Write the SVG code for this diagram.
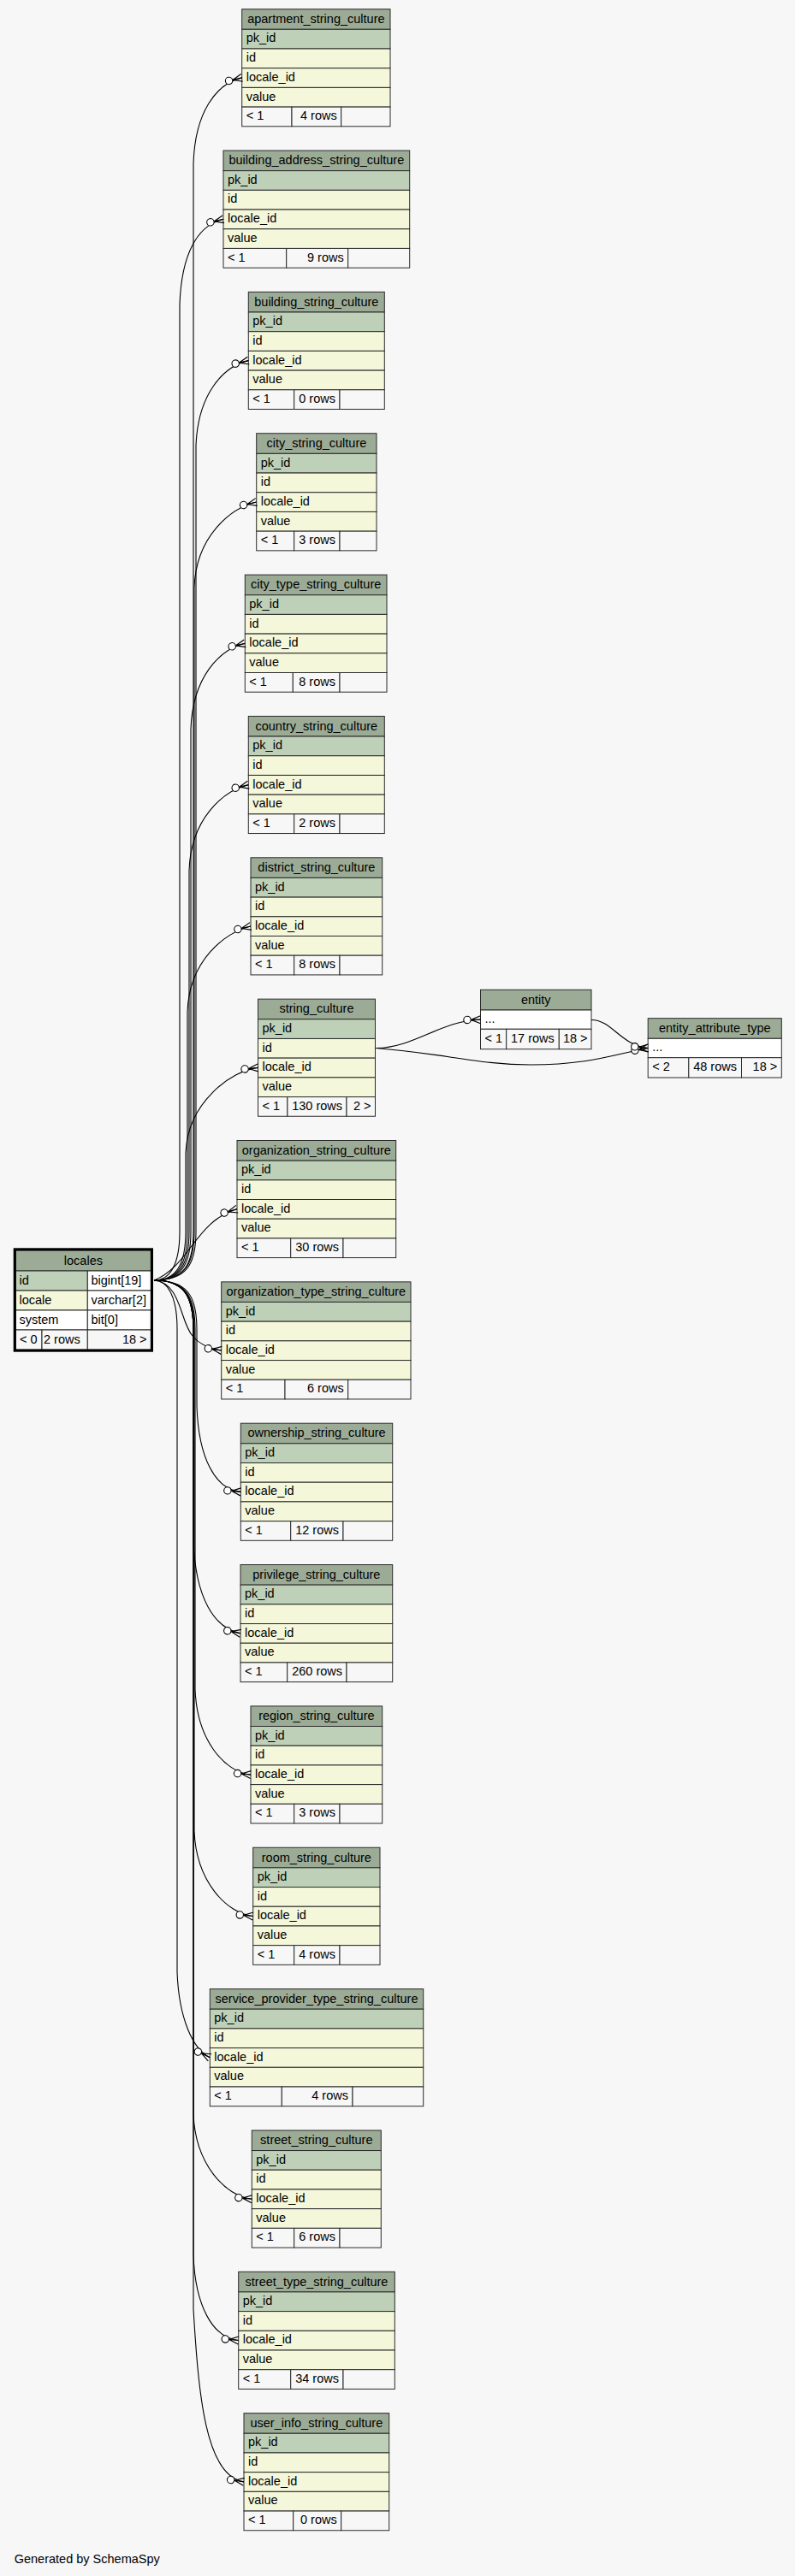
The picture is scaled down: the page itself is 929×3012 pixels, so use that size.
<svg xmlns="http://www.w3.org/2000/svg" width="929" height="3012" viewBox="0 0 929 3012">
<defs>
<style>
.bg{fill:#f7f7f7}
.hd{fill:#9bab96;stroke:#2b2b2b;stroke-width:1}
.pk{fill:#bed1b8;stroke:#2b2b2b;stroke-width:1}
.col{fill:#f4f7da;stroke:#2b2b2b;stroke-width:1}
.ft{fill:#f7f7f7;stroke:#2b2b2b;stroke-width:1}
.wt{fill:#ffffff;stroke:#2b2b2b;stroke-width:1}
text{font-family:"Liberation Sans",Arial,sans-serif;font-size:14.5px;fill:#000}
.c{text-anchor:middle}
.r{text-anchor:end}
.edge{fill:none;stroke:#000;stroke-width:1.1}
</style>
<marker id="crow" markerUnits="userSpaceOnUse" viewBox="-22 -8 24 16" refX="0" refY="0" markerWidth="24" markerHeight="16" orient="auto" overflow="visible">
<path d="M-11,0 L0,-4.5 M-11,0 L0,0 M-11,0 L0,4.5" fill="none" stroke="#000" stroke-width="1.2"/>
<circle cx="-15.5" cy="0" r="4.2" fill="#fff" stroke="#000" stroke-width="1.1"/>
</marker>
</defs>
<rect class="bg" x="0" y="0" width="929" height="3012"/>

<g id="t0" transform="translate(282.7,10.7)">
<rect class="hd" x="0" y="0" width="173.3" height="23.6"/><rect class="pk" x="0" y="23.6" width="173.3" height="22.7"/><rect class="col" x="0" y="46.3" width="173.3" height="22.7"/><rect class="col" x="0" y="69" width="173.3" height="22.7"/><rect class="col" x="0" y="91.7" width="173.3" height="22.7"/>
<rect class="ft" x="0" y="114.4" width="58.3" height="22.7"/><rect class="ft" x="58.3" y="114.4" width="57.7" height="22.7"/><rect class="ft" x="116" y="114.4" width="57.3" height="22.7"/>
<text class="c" x="86.65" y="16.3">apartment_string_culture</text><text x="5" y="38.75">pk_id</text><text x="5" y="61.45">id</text><text x="5" y="84.15">locale_id</text><text x="5" y="106.85">value</text><text x="5" y="129.55">&lt; 1</text><text class="r" x="111" y="129.55">4 rows</text>
</g>

<g id="t1" transform="translate(261,176.05)">
<rect class="hd" x="0" y="0" width="217.7" height="23.6"/><rect class="pk" x="0" y="23.6" width="217.7" height="22.7"/><rect class="col" x="0" y="46.3" width="217.7" height="22.7"/><rect class="col" x="0" y="69" width="217.7" height="22.7"/><rect class="col" x="0" y="91.7" width="217.7" height="22.7"/>
<rect class="ft" x="0" y="114.4" width="73.7" height="22.7"/><rect class="ft" x="73.7" y="114.4" width="72" height="22.7"/><rect class="ft" x="145.7" y="114.4" width="72" height="22.7"/>
<text class="c" x="108.85" y="16.3">building_address_string_culture</text><text x="5" y="38.75">pk_id</text><text x="5" y="61.45">id</text><text x="5" y="84.15">locale_id</text><text x="5" y="106.85">value</text><text x="5" y="129.55">&lt; 1</text><text class="r" x="140.7" y="129.55">9 rows</text>
</g>

<g id="t2" transform="translate(290.3,341.4)">
<rect class="hd" x="0" y="0" width="159" height="23.6"/><rect class="pk" x="0" y="23.6" width="159" height="22.7"/><rect class="col" x="0" y="46.3" width="159" height="22.7"/><rect class="col" x="0" y="69" width="159" height="22.7"/><rect class="col" x="0" y="91.7" width="159" height="22.7"/>
<rect class="ft" x="0" y="114.4" width="53.4" height="22.7"/><rect class="ft" x="53.4" y="114.4" width="53.3" height="22.7"/><rect class="ft" x="106.7" y="114.4" width="52.3" height="22.7"/>
<text class="c" x="79.5" y="16.3">building_string_culture</text><text x="5" y="38.75">pk_id</text><text x="5" y="61.45">id</text><text x="5" y="84.15">locale_id</text><text x="5" y="106.85">value</text><text x="5" y="129.55">&lt; 1</text><text class="r" x="101.7" y="129.55">0 rows</text>
</g>

<g id="t3" transform="translate(299.7,506.75)">
<rect class="hd" x="0" y="0" width="140.3" height="23.6"/><rect class="pk" x="0" y="23.6" width="140.3" height="22.7"/><rect class="col" x="0" y="46.3" width="140.3" height="22.7"/><rect class="col" x="0" y="69" width="140.3" height="22.7"/><rect class="col" x="0" y="91.7" width="140.3" height="22.7"/>
<rect class="ft" x="0" y="114.4" width="44" height="22.7"/><rect class="ft" x="44" y="114.4" width="53.3" height="22.7"/><rect class="ft" x="97.3" y="114.4" width="43" height="22.7"/>
<text class="c" x="70.15" y="16.3">city_string_culture</text><text x="5" y="38.75">pk_id</text><text x="5" y="61.45">id</text><text x="5" y="84.15">locale_id</text><text x="5" y="106.85">value</text><text x="5" y="129.55">&lt; 1</text><text class="r" x="92.3" y="129.55">3 rows</text>
</g>

<g id="t4" transform="translate(286.3,672.1)">
<rect class="hd" x="0" y="0" width="165.7" height="23.6"/><rect class="pk" x="0" y="23.6" width="165.7" height="22.7"/><rect class="col" x="0" y="46.3" width="165.7" height="22.7"/><rect class="col" x="0" y="69" width="165.7" height="22.7"/><rect class="col" x="0" y="91.7" width="165.7" height="22.7"/>
<rect class="ft" x="0" y="114.4" width="56" height="22.7"/><rect class="ft" x="56" y="114.4" width="54.7" height="22.7"/><rect class="ft" x="110.7" y="114.4" width="55" height="22.7"/>
<text class="c" x="82.85" y="16.3">city_type_string_culture</text><text x="5" y="38.75">pk_id</text><text x="5" y="61.45">id</text><text x="5" y="84.15">locale_id</text><text x="5" y="106.85">value</text><text x="5" y="129.55">&lt; 1</text><text class="r" x="105.7" y="129.55">8 rows</text>
</g>

<g id="t5" transform="translate(290.3,837.45)">
<rect class="hd" x="0" y="0" width="159" height="23.6"/><rect class="pk" x="0" y="23.6" width="159" height="22.7"/><rect class="col" x="0" y="46.3" width="159" height="22.7"/><rect class="col" x="0" y="69" width="159" height="22.7"/><rect class="col" x="0" y="91.7" width="159" height="22.7"/>
<rect class="ft" x="0" y="114.4" width="53.4" height="22.7"/><rect class="ft" x="53.4" y="114.4" width="53.3" height="22.7"/><rect class="ft" x="106.7" y="114.4" width="52.3" height="22.7"/>
<text class="c" x="79.5" y="16.3">country_string_culture</text><text x="5" y="38.75">pk_id</text><text x="5" y="61.45">id</text><text x="5" y="84.15">locale_id</text><text x="5" y="106.85">value</text><text x="5" y="129.55">&lt; 1</text><text class="r" x="101.7" y="129.55">2 rows</text>
</g>

<g id="t6" transform="translate(293,1002.8)">
<rect class="hd" x="0" y="0" width="153.7" height="23.6"/><rect class="pk" x="0" y="23.6" width="153.7" height="22.7"/><rect class="col" x="0" y="46.3" width="153.7" height="22.7"/><rect class="col" x="0" y="69" width="153.7" height="22.7"/><rect class="col" x="0" y="91.7" width="153.7" height="22.7"/>
<rect class="ft" x="0" y="114.4" width="50.7" height="22.7"/><rect class="ft" x="50.7" y="114.4" width="53.3" height="22.7"/><rect class="ft" x="104" y="114.4" width="49.7" height="22.7"/>
<text class="c" x="76.85" y="16.3">district_string_culture</text><text x="5" y="38.75">pk_id</text><text x="5" y="61.45">id</text><text x="5" y="84.15">locale_id</text><text x="5" y="106.85">value</text><text x="5" y="129.55">&lt; 1</text><text class="r" x="99" y="129.55">8 rows</text>
</g>

<g id="t7" transform="translate(301.5,1168.15)">
<rect class="hd" x="0" y="0" width="137" height="23.6"/><rect class="pk" x="0" y="23.6" width="137" height="22.7"/><rect class="col" x="0" y="46.3" width="137" height="22.7"/><rect class="col" x="0" y="69" width="137" height="22.7"/><rect class="col" x="0" y="91.7" width="137" height="22.7"/>
<rect class="ft" x="0" y="114.4" width="34.4" height="22.7"/><rect class="ft" x="34.4" y="114.4" width="69.1" height="22.7"/><rect class="ft" x="103.5" y="114.4" width="33.5" height="22.7"/>
<text class="c" x="68.5" y="16.3">string_culture</text><text x="5" y="38.75">pk_id</text><text x="5" y="61.45">id</text><text x="5" y="84.15">locale_id</text><text x="5" y="106.85">value</text><text x="5" y="129.55">&lt; 1</text><text class="r" x="98.5" y="129.55">130 rows</text><text class="r" x="132" y="129.55">2 &gt;</text>
</g>

<g id="t8" transform="translate(277,1333.5)">
<rect class="hd" x="0" y="0" width="185.7" height="23.6"/><rect class="pk" x="0" y="23.6" width="185.7" height="22.7"/><rect class="col" x="0" y="46.3" width="185.7" height="22.7"/><rect class="col" x="0" y="69" width="185.7" height="22.7"/><rect class="col" x="0" y="91.7" width="185.7" height="22.7"/>
<rect class="ft" x="0" y="114.4" width="62.7" height="22.7"/><rect class="ft" x="62.7" y="114.4" width="61.3" height="22.7"/><rect class="ft" x="124" y="114.4" width="61.7" height="22.7"/>
<text class="c" x="92.85" y="16.3">organization_string_culture</text><text x="5" y="38.75">pk_id</text><text x="5" y="61.45">id</text><text x="5" y="84.15">locale_id</text><text x="5" y="106.85">value</text><text x="5" y="129.55">&lt; 1</text><text class="r" x="119" y="129.55">30 rows</text>
</g>

<g id="t9" transform="translate(258.7,1498.85)">
<rect class="hd" x="0" y="0" width="221.3" height="23.6"/><rect class="pk" x="0" y="23.6" width="221.3" height="22.7"/><rect class="col" x="0" y="46.3" width="221.3" height="22.7"/><rect class="col" x="0" y="69" width="221.3" height="22.7"/><rect class="col" x="0" y="91.7" width="221.3" height="22.7"/>
<rect class="ft" x="0" y="114.4" width="74.3" height="22.7"/><rect class="ft" x="74.3" y="114.4" width="73.7" height="22.7"/><rect class="ft" x="148" y="114.4" width="73.3" height="22.7"/>
<text class="c" x="110.65" y="16.3">organization_type_string_culture</text><text x="5" y="38.75">pk_id</text><text x="5" y="61.45">id</text><text x="5" y="84.15">locale_id</text><text x="5" y="106.85">value</text><text x="5" y="129.55">&lt; 1</text><text class="r" x="143" y="129.55">6 rows</text>
</g>

<g id="t10" transform="translate(281.3,1664.2)">
<rect class="hd" x="0" y="0" width="177.4" height="23.6"/><rect class="pk" x="0" y="23.6" width="177.4" height="22.7"/><rect class="col" x="0" y="46.3" width="177.4" height="22.7"/><rect class="col" x="0" y="69" width="177.4" height="22.7"/><rect class="col" x="0" y="91.7" width="177.4" height="22.7"/>
<rect class="ft" x="0" y="114.4" width="58.4" height="22.7"/><rect class="ft" x="58.4" y="114.4" width="61.3" height="22.7"/><rect class="ft" x="119.7" y="114.4" width="57.7" height="22.7"/>
<text class="c" x="88.7" y="16.3">ownership_string_culture</text><text x="5" y="38.75">pk_id</text><text x="5" y="61.45">id</text><text x="5" y="84.15">locale_id</text><text x="5" y="106.85">value</text><text x="5" y="129.55">&lt; 1</text><text class="r" x="114.7" y="129.55">12 rows</text>
</g>

<g id="t11" transform="translate(281,1829.55)">
<rect class="hd" x="0" y="0" width="177.7" height="23.6"/><rect class="pk" x="0" y="23.6" width="177.7" height="22.7"/><rect class="col" x="0" y="46.3" width="177.7" height="22.7"/><rect class="col" x="0" y="69" width="177.7" height="22.7"/><rect class="col" x="0" y="91.7" width="177.7" height="22.7"/>
<rect class="ft" x="0" y="114.4" width="54.7" height="22.7"/><rect class="ft" x="54.7" y="114.4" width="69.3" height="22.7"/><rect class="ft" x="124" y="114.4" width="53.7" height="22.7"/>
<text class="c" x="88.85" y="16.3">privilege_string_culture</text><text x="5" y="38.75">pk_id</text><text x="5" y="61.45">id</text><text x="5" y="84.15">locale_id</text><text x="5" y="106.85">value</text><text x="5" y="129.55">&lt; 1</text><text class="r" x="119" y="129.55">260 rows</text>
</g>

<g id="t12" transform="translate(293,1994.9)">
<rect class="hd" x="0" y="0" width="153.7" height="23.6"/><rect class="pk" x="0" y="23.6" width="153.7" height="22.7"/><rect class="col" x="0" y="46.3" width="153.7" height="22.7"/><rect class="col" x="0" y="69" width="153.7" height="22.7"/><rect class="col" x="0" y="91.7" width="153.7" height="22.7"/>
<rect class="ft" x="0" y="114.4" width="50.7" height="22.7"/><rect class="ft" x="50.7" y="114.4" width="53.3" height="22.7"/><rect class="ft" x="104" y="114.4" width="49.7" height="22.7"/>
<text class="c" x="76.85" y="16.3">region_string_culture</text><text x="5" y="38.75">pk_id</text><text x="5" y="61.45">id</text><text x="5" y="84.15">locale_id</text><text x="5" y="106.85">value</text><text x="5" y="129.55">&lt; 1</text><text class="r" x="99" y="129.55">3 rows</text>
</g>

<g id="t13" transform="translate(295.7,2160.25)">
<rect class="hd" x="0" y="0" width="148.3" height="23.6"/><rect class="pk" x="0" y="23.6" width="148.3" height="22.7"/><rect class="col" x="0" y="46.3" width="148.3" height="22.7"/><rect class="col" x="0" y="69" width="148.3" height="22.7"/><rect class="col" x="0" y="91.7" width="148.3" height="22.7"/>
<rect class="ft" x="0" y="114.4" width="48" height="22.7"/><rect class="ft" x="48" y="114.4" width="53.3" height="22.7"/><rect class="ft" x="101.3" y="114.4" width="47" height="22.7"/>
<text class="c" x="74.15" y="16.3">room_string_culture</text><text x="5" y="38.75">pk_id</text><text x="5" y="61.45">id</text><text x="5" y="84.15">locale_id</text><text x="5" y="106.85">value</text><text x="5" y="129.55">&lt; 1</text><text class="r" x="96.3" y="129.55">4 rows</text>
</g>

<g id="t14" transform="translate(245.3,2325.6)">
<rect class="hd" x="0" y="0" width="249.4" height="23.6"/><rect class="pk" x="0" y="23.6" width="249.4" height="22.7"/><rect class="col" x="0" y="46.3" width="249.4" height="22.7"/><rect class="col" x="0" y="69" width="249.4" height="22.7"/><rect class="col" x="0" y="91.7" width="249.4" height="22.7"/>
<rect class="ft" x="0" y="114.4" width="84" height="22.7"/><rect class="ft" x="84" y="114.4" width="82.7" height="22.7"/><rect class="ft" x="166.7" y="114.4" width="82.7" height="22.7"/>
<text class="c" x="124.7" y="16.3">service_provider_type_string_culture</text><text x="5" y="38.75">pk_id</text><text x="5" y="61.45">id</text><text x="5" y="84.15">locale_id</text><text x="5" y="106.85">value</text><text x="5" y="129.55">&lt; 1</text><text class="r" x="161.7" y="129.55">4 rows</text>
</g>

<g id="t15" transform="translate(294.3,2490.95)">
<rect class="hd" x="0" y="0" width="151" height="23.6"/><rect class="pk" x="0" y="23.6" width="151" height="22.7"/><rect class="col" x="0" y="46.3" width="151" height="22.7"/><rect class="col" x="0" y="69" width="151" height="22.7"/><rect class="col" x="0" y="91.7" width="151" height="22.7"/>
<rect class="ft" x="0" y="114.4" width="49.4" height="22.7"/><rect class="ft" x="49.4" y="114.4" width="53.3" height="22.7"/><rect class="ft" x="102.7" y="114.4" width="48.3" height="22.7"/>
<text class="c" x="75.5" y="16.3">street_string_culture</text><text x="5" y="38.75">pk_id</text><text x="5" y="61.45">id</text><text x="5" y="84.15">locale_id</text><text x="5" y="106.85">value</text><text x="5" y="129.55">&lt; 1</text><text class="r" x="97.7" y="129.55">6 rows</text>
</g>

<g id="t16" transform="translate(278.7,2656.3)">
<rect class="hd" x="0" y="0" width="182.6" height="23.6"/><rect class="pk" x="0" y="23.6" width="182.6" height="22.7"/><rect class="col" x="0" y="46.3" width="182.6" height="22.7"/><rect class="col" x="0" y="69" width="182.6" height="22.7"/><rect class="col" x="0" y="91.7" width="182.6" height="22.7"/>
<rect class="ft" x="0" y="114.4" width="61" height="22.7"/><rect class="ft" x="61" y="114.4" width="61.3" height="22.7"/><rect class="ft" x="122.3" y="114.4" width="60.3" height="22.7"/>
<text class="c" x="91.3" y="16.3">street_type_string_culture</text><text x="5" y="38.75">pk_id</text><text x="5" y="61.45">id</text><text x="5" y="84.15">locale_id</text><text x="5" y="106.85">value</text><text x="5" y="129.55">&lt; 1</text><text class="r" x="117.3" y="129.55">34 rows</text>
</g>

<g id="t17" transform="translate(285,2821.65)">
<rect class="hd" x="0" y="0" width="169.7" height="23.6"/><rect class="pk" x="0" y="23.6" width="169.7" height="22.7"/><rect class="col" x="0" y="46.3" width="169.7" height="22.7"/><rect class="col" x="0" y="69" width="169.7" height="22.7"/><rect class="col" x="0" y="91.7" width="169.7" height="22.7"/>
<rect class="ft" x="0" y="114.4" width="57.7" height="22.7"/><rect class="ft" x="57.7" y="114.4" width="56" height="22.7"/><rect class="ft" x="113.7" y="114.4" width="56" height="22.7"/>
<text class="c" x="84.85" y="16.3">user_info_string_culture</text><text x="5" y="38.75">pk_id</text><text x="5" y="61.45">id</text><text x="5" y="84.15">locale_id</text><text x="5" y="106.85">value</text><text x="5" y="129.55">&lt; 1</text><text class="r" x="108.7" y="129.55">0 rows</text>
</g>

<g id="entity" transform="translate(561.5,1157.3)">
<rect class="hd" x="0" y="0" width="129.5" height="23.7"/><rect class="wt" x="0" y="23.7" width="129.5" height="22.3"/>
<rect class="ft" x="0" y="46" width="30.2" height="23.4"/><rect class="ft" x="30.2" y="46" width="61.6" height="23.4"/><rect class="ft" x="91.8" y="46" width="37.7" height="23.4"/>
<text class="c" x="64.75" y="16.3">entity</text><text x="5" y="38.6">...</text><text x="5" y="61.5">&lt; 1</text><text class="r" x="86.3" y="61.5">17 rows</text><text class="r" x="125" y="61.5">18 &gt;</text>
</g>

<g id="entity_attribute_type" transform="translate(757.2,1190.7)">
<rect class="hd" x="0" y="0" width="156.1" height="23.6"/><rect class="wt" x="0" y="23.6" width="156.1" height="22.4"/>
<rect class="ft" x="0" y="46" width="47.6" height="23.3"/><rect class="ft" x="47.6" y="46" width="61.7" height="23.3"/><rect class="ft" x="109.3" y="46" width="46.8" height="23.3"/>
<text class="c" x="78.05" y="16.3">entity_attribute_type</text><text x="5" y="38.6">...</text><text x="5" y="61.5">&lt; 2</text><text class="r" x="103.8" y="61.5">48 rows</text><text class="r" x="151" y="61.5">18 &gt;</text>
</g>

<g id="locales">
<rect class="hd" x="18.5" y="1462" width="157.8" height="24"/>
<rect class="pk" x="18.5" y="1486" width="83.8" height="23"/><rect class="wt" x="102.3" y="1486" width="74" height="23"/>
<rect class="col" x="18.5" y="1509" width="83.8" height="23"/><rect class="wt" x="102.3" y="1509" width="74" height="23"/>
<rect class="wt" x="18.5" y="1532" width="83.8" height="23"/><rect class="wt" x="102.3" y="1532" width="74" height="23"/>
<rect class="ft" x="18.5" y="1555" width="30.5" height="23"/><rect class="ft" x="49" y="1555" width="53.3" height="23"/><rect class="ft" x="102.3" y="1555" width="74" height="23"/>
<rect x="17.2" y="1460.8" width="160.3" height="118.4" fill="none" stroke="#000" stroke-width="3"/>
<text class="c" x="97.4" y="1478.8">locales</text>
<text x="22.5" y="1501.6">id</text><text x="106.5" y="1501.6">bigint[19]</text>
<text x="22.5" y="1524.6">locale</text><text x="106.5" y="1524.6">varchar[2]</text>
<text x="22.5" y="1547.6">system</text><text x="106.5" y="1547.6">bit[0]</text>
<text x="23" y="1570.6">&lt; 0</text><text x="51" y="1570.6">2 rows</text><text class="r" x="171.5" y="1570.6">18 &gt;</text>
</g>

<g id="connectors">
<path class="edge" marker-end="url(#crow)" d="M180,1497 C214,1497 226,1480 226,1440 L226,190.9 C228,130.9 252.7,97.9 282.7,90.9"/>
<path class="edge" marker-end="url(#crow)" d="M180,1497 C198,1497 210,1480 210,1440 L210,356.3 C212,296.3 231,263.3 261,256.3"/>
<path class="edge" marker-end="url(#crow)" d="M180,1497 C217,1497 229,1480 229,1440 L229,521.6 C231,461.6 260.3,428.6 290.3,421.6"/>
<path class="edge" marker-end="url(#crow)" d="M180,1497 C215,1497 227,1480 227,1440 L227,687 C229,627 269.7,594 299.7,587"/>
<path class="edge" marker-end="url(#crow)" d="M180,1497 C211,1497 223,1480 223,1440 L223,852.3 C225,792.3 256.3,759.3 286.3,752.3"/>
<path class="edge" marker-end="url(#crow)" d="M180,1497 C209,1497 221,1480 221,1440 L221,1017.7 C223,957.7 260.3,924.7 290.3,917.7"/>
<path class="edge" marker-end="url(#crow)" d="M180,1497 C207,1497 219,1480 219,1440 L219,1183 C221,1123 263,1090 293,1083"/>
<path class="edge" marker-end="url(#crow)" d="M180,1497 C205,1497 217,1480 217,1440 L217,1348.4 C219,1288.4 271.5,1251.4 301.5,1248.4"/>
<path class="edge" marker-end="url(#crow)" d="M180,1497 C222,1480 228,1428 277,1413.7"/>
<path class="edge" marker-end="url(#crow)" d="M180,1497 C212,1500 210,1545 225,1562 C233,1572 245,1577 258.7,1578.9"/>
<path class="edge" marker-end="url(#crow)" d="M180,1497 C218,1497 230,1514 230,1554 L230,1644.4 C232,1704.4 251.3,1741.4 281.3,1744.4"/>
<path class="edge" marker-end="url(#crow)" d="M180,1497 C214,1497 226,1514 226,1554 L226,1799.8 C228,1869.8 251,1903.8 281,1909.8"/>
<path class="edge" marker-end="url(#crow)" d="M180,1497 C216,1497 228,1514 228,1554 L228,1975.1 C230,2035.1 263,2072.1 293,2075.1"/>
<path class="edge" marker-end="url(#crow)" d="M180,1497 C215,1497 227,1514 227,1554 L227,2140.5 C229,2200.5 265.7,2237.5 295.7,2240.5"/>
<path class="edge" marker-end="url(#crow)" d="M180,1497 C195,1497 207,1514 207,1554 L207,2305.8 C209,2360 225.3,2396 245.3,2405.8"/>
<path class="edge" marker-end="url(#crow)" d="M180,1497 C214,1497 226,1514 226,1554 L226,2471.2 C228,2531.2 264.3,2568.2 294.3,2571.2"/>
<path class="edge" marker-end="url(#crow)" d="M180,1497 C214,1497 226,1514 226,1554 L226,2636.5 C228,2696.5 248.7,2733.5 278.7,2736.5"/>
<path class="edge" marker-end="url(#crow)" d="M180,1497 C214,1497 226,1514 226,1554 L226,2700 C232,2800 240,2895 285,2901.9"/>
<path class="edge" marker-end="url(#crow)" d="M439.4,1225.5 C485,1225 515,1193 561.5,1192.2"/>
<path class="edge" marker-end="url(#crow)" d="M439.4,1225.5 C520,1232 560,1245 620,1245 C690,1245 720,1232 757.2,1225.5"/>
<path class="edge" marker-end="url(#crow)" d="M691,1192.5 C715,1192.5 725,1222 757.2,1225.5"/>
</g>

<text x="16.7" y="2997">Generated by SchemaSpy</text>
</svg>
